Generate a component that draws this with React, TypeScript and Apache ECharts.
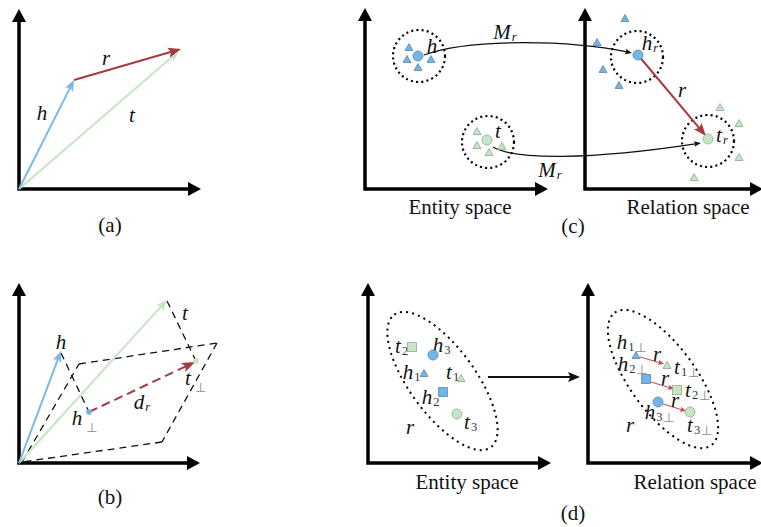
import React, { useEffect, useRef } from "react";
import * as echarts from "echarts";

// ---------- diagram data (coordinates in the diagram's own units) ----------
// axis frames: [originX, originY, xArrowTipX, yArrowTipY]
const axisFrames = [
  [19, 189, 201, 9],
  [19, 463, 200, 283],
  [365, 189, 548, 8],
  [585, 189, 763, 8],
  [368, 463, 551, 283],
  [588, 463, 763, 283],
];

// vectors: [x1, y1, x2, y2, kind]
const vectors: [number, number, number, number, string][] = [
  [19, 189, 179, 51, "green"],
  [19, 189, 74, 80, "blue"],
  [74, 80, 181, 49, "red"],
  [19, 463, 167, 300, "green"],
  [19, 463, 61, 351, "blue"],
  [89, 412, 195, 362, "redDash"],
  [638, 55, 706, 136, "red"],
  [488, 377, 580, 377, "black"],
  [640, 357, 664, 364, "redThin"],
  [651, 382, 674, 389, "redThin"],
  [663, 404, 686, 411, "redThin"],
];

// dashed plane edges and projection lines in (b): [x1, y1, x2, y2]
const planeEdges = [
  [22, 462, 79, 364],
  [79, 364, 217, 343],
  [217, 343, 162, 442],
  [162, 442, 22, 462],
];
const projections = [
  [61, 353, 89, 412],
  [167, 301, 196, 361],
];

// mapping curves M_r: [x0, y0, c1x, c1y, c2x, c2y, x3, y3]
const mappingCurves = [
  [424, 55, 470, 38, 570, 40, 632, 53],
  [493, 147, 515, 160, 590, 160, 701, 143],
];

// dotted neighbourhood circles: [cx, cy, r]
const dottedCircles = [
  [419, 56, 26],
  [637, 57, 26],
  [488, 142, 26],
  [708, 141, 26],
];

// dotted ellipses: [cx, cy, semiMajor, semiMinor, angleDeg]
const dottedEllipses = [
  [442.5, 381, 82, 33, 54],
  [663, 379, 82, 33, 54],
];

// markers: [x, y, shape, colour]
const markers: [number, number, string, string][] = [
  // (b)
  [89, 412, "dot", "blue"],
  [196, 361, "dot", "green"],
  // (c) entity space
  [409, 47, "triangle", "blue"],
  [407, 59, "triangle", "blue"],
  [418, 67, "triangle", "blue"],
  [431, 59, "triangle", "blue"],
  [418, 56, "circle", "blue"],
  [477, 131, "triangle", "green"],
  [477, 145, "triangle", "green"],
  [489, 152, "triangle", "green"],
  [502, 146, "triangle", "green"],
  [487, 140, "circle", "green"],
  // (c) relation space
  [625, 18, "triangle", "blue"],
  [597, 42, "triangle", "blue"],
  [603, 69, "triangle", "blue"],
  [619, 85, "triangle", "blue"],
  [638, 55, "circle", "blue"],
  [720, 107, "triangle", "green"],
  [739, 123, "triangle", "green"],
  [739, 157, "triangle", "green"],
  [694, 177, "triangle", "green"],
  [708, 139, "circle", "green"],
  // (d) entity space
  [412, 347, "square", "green"],
  [433, 355, "circle", "blue"],
  [424, 373, "triangle", "blue"],
  [461, 378, "triangle", "green"],
  [443, 392, "square", "blue"],
  [457, 414, "circle", "green"],
  // (d) relation space
  [636, 355, "triangle", "blue"],
  [667, 365, "triangle", "green"],
  [646, 379, "square", "blue"],
  [677, 390, "square", "green"],
  [658, 402, "circle", "blue"],
  [690, 412, "circle", "green"],
];

// labels: [x, y, main, subscript, perp, kind]
const labels: [number, number, string, string, string, string][] = [
  [106, 58, "r", "", "", "var"],
  [42, 113, "h", "", "", "var"],
  [132, 115, "t", "", "", "var"],
  [110, 225, "(a)", "", "", "cap"],
  [61, 342, "h", "", "", "var"],
  [185, 313, "t", "", "", "var"],
  [188, 378, "t", "", "⊥", "var"],
  [77, 418, "h", "", "⊥", "var"],
  [139, 402, "d", "r", "", "var"],
  [110, 497, "(b)", "", "", "cap"],
  [432, 46, "h", "", "", "var"],
  [502, 32, "M", "r", "", "var"],
  [547, 170, "M", "r", "", "var"],
  [498, 131, "t", "", "", "var"],
  [647, 43, "h", "r", "", "var"],
  [682, 90, "r", "", "", "var"],
  [719, 135, "t", "r", "", "var"],
  [460, 207, "Entity space", "", "", "cap"],
  [688, 207, "Relation space", "", "", "cap"],
  [573, 226, "(c)", "", "", "cap"],
  [398, 346, "t", "2", "", "var"],
  [438, 345, "h", "3", "", "var"],
  [408, 372, "h", "1", "", "var"],
  [449, 372, "t", "1", "", "var"],
  [427, 397, "h", "2", "", "var"],
  [467, 422, "t", "3", "", "var"],
  [410, 427, "r", "", "", "var"],
  [622, 342, "h", "1", "⊥", "var"],
  [677, 367, "t", "1", "⊥", "var"],
  [657, 354, "r", "", "", "var"],
  [623, 364, "h", "2", "⊥", "var"],
  [688, 390, "t", "2", "⊥", "var"],
  [665, 378, "r", "", "", "var"],
  [650, 412, "h", "3", "⊥", "var"],
  [690, 425, "t", "3", "⊥", "var"],
  [675, 400, "r", "", "", "var"],
  [630, 425, "r", "", "", "var"],
  [467, 482, "Entity space", "", "", "cap"],
  [695, 482, "Relation space", "", "", "cap"],
  [573, 513, "(d)", "", "", "cap"],
];

// ---------- styles ----------
const SERIF = "Liberation Serif";
const TEXT = "#111111";
const COLORS: Record<string, string> = {
  blue: "#7ab9e8",
  green: "#c6e5c6",
  red: "#a63a40",
  redDash: "#a63a40",
  redThin: "#c4474f",
  black: "#111111",
};
const VEC_STYLE: Record<string, { w: number; L: number; hw: number; dash?: number[] }> = {
  blue: { w: 2, L: 11, hw: 4.5 },
  green: { w: 2, L: 11, hw: 4.5 },
  red: { w: 2, L: 13, hw: 5 },
  redDash: { w: 2, L: 13, hw: 5, dash: [9, 5] },
  redThin: { w: 1, L: 6, hw: 2.6 },
  black: { w: 2, L: 12, hw: 5 },
};
const MARKER_FILL: Record<string, string> = { blue: "#74b5e5", green: "#c6e4c6" };
const MARKER_STROKE: Record<string, string> = { blue: "#4a7aa5", green: "#849f84" };
const MAIN_HALF_W: Record<string, number> = { h: 5.2, t: 2.9, r: 4, d: 5.2, M: 8.7 };

function arrowHead(tip: number[], from: number[], L: number, hw: number, notch: number, fill: string) {
  const dx = tip[0] - from[0];
  const dy = tip[1] - from[1];
  const len = Math.hypot(dx, dy) || 1;
  const ux = dx / len, uy = dy / len;
  const nx = -uy, ny = ux;
  const bx = tip[0] - ux * L, by = tip[1] - uy * L;
  const mx = tip[0] - ux * L * notch, my = tip[1] - uy * L * notch;
  return {
    type: "polygon",
    shape: { points: [[tip[0], tip[1]], [bx + nx * hw, by + ny * hw], [mx, my], [bx - nx * hw, by - ny * hw]] },
    style: { fill },
  };
}

function shorten(a: number[], b: number[], d: number) {
  const dx = b[0] - a[0], dy = b[1] - a[1];
  const len = Math.hypot(dx, dy) || 1;
  return [b[0] - (dx / len) * d, b[1] - (dy / len) * d];
}

function txt(x: number, y: number, text: string, size: number, italic: boolean, fill: string, align: string, family = SERIF) {
  return {
    type: "text",
    x,
    y,
    style: {
      text,
      fontFamily: family,
      fontSize: size,
      fontStyle: italic ? "italic" : "normal",
      fontWeight: "normal",
      fill,
      align,
      verticalAlign: "middle",
    },
  };
}

export default function App() {
  const ref = useRef<HTMLDivElement>(null);
  useEffect(() => {
    if (!ref.current) return;
    const chart = echarts.init(ref.current, null, { renderer: "svg" });
    const dashed = [...planeEdges, ...projections];
    const option: any = {
      animation: false,
      backgroundColor: "#ffffff",
      grid: { left: 0, right: 0, top: 0, bottom: 0 },
      xAxis: { type: "value", min: 0, max: 761, show: false },
      yAxis: { type: "value", min: 0, max: 527, inverse: true, show: false },
      series: [
        {
          type: "custom",
          name: "axes",
          clip: false,
          silent: true,
          data: axisFrames.map((f) => [f[0], f[1]]),
          renderItem: (params: any, api: any) => {
            const [ox, oy, xt, yt] = axisFrames[params.dataIndex];
            const o = api.coord([ox, oy]);
            const tx = api.coord([xt, oy]);
            const ty = api.coord([ox, yt]);
            const L = 13, hw = 7;
            return {
              type: "group",
              children: [
                {
                  type: "polyline",
                  shape: { points: [[ty[0], ty[1] + L - 1], [o[0], o[1]], [tx[0] - L + 1, tx[1]]] },
                  style: { stroke: "#000", lineWidth: 3.5, fill: "none", lineJoin: "miter" },
                },
                arrowHead(ty, o, L, hw, 1, "#000"),
                arrowHead(tx, o, L, hw, 1, "#000"),
              ],
            };
          },
        },
        {
          type: "custom",
          name: "dashed",
          clip: false,
          silent: true,
          data: dashed.map((d) => [d[0], d[1]]),
          renderItem: (params: any, api: any) => {
            const d = dashed[params.dataIndex];
            const a = api.coord([d[0], d[1]]);
            const b = api.coord([d[2], d[3]]);
            return {
              type: "line",
              shape: { x1: a[0], y1: a[1], x2: b[0], y2: b[1] },
              style: { stroke: "#111", lineWidth: 1.3, lineDash: [7, 5] },
            };
          },
        },
        {
          type: "custom",
          name: "dotted",
          clip: false,
          silent: true,
          data: [...dottedCircles.map((c) => [c[0], c[1]]), ...dottedEllipses.map((e) => [e[0], e[1]])],
          renderItem: (params: any, api: any) => {
            const i = params.dataIndex;
            if (i < dottedCircles.length) {
              const [cx, cy, r] = dottedCircles[i];
              const c = api.coord([cx, cy]);
              const e = api.coord([cx + r, cy]);
              return {
                type: "circle",
                shape: { cx: c[0], cy: c[1], r: e[0] - c[0] },
                style: { stroke: "#000", fill: "none", lineWidth: 2.2, lineDash: [2, 3.2] },
              };
            }
            const [cx, cy, a, b, ang] = dottedEllipses[i - dottedCircles.length];
            const c = api.coord([cx, cy]);
            const ea = api.coord([cx + a, cy]);
            const eb = api.coord([cx + b, cy]);
            return {
              type: "ellipse",
              x: c[0],
              y: c[1],
              rotation: (-ang * Math.PI) / 180,
              shape: { cx: 0, cy: 0, rx: ea[0] - c[0], ry: eb[0] - c[0] },
              style: { stroke: "#000", fill: "none", lineWidth: 2, lineDash: [2, 4.2] },
            };
          },
        },
        {
          type: "custom",
          name: "curves",
          clip: false,
          silent: true,
          data: mappingCurves.map((c) => [c[0], c[1]]),
          renderItem: (params: any, api: any) => {
            const c = mappingCurves[params.dataIndex];
            const p0 = api.coord([c[0], c[1]]);
            const p1 = api.coord([c[2], c[3]]);
            const p2 = api.coord([c[4], c[5]]);
            const p3 = api.coord([c[6], c[7]]);
            const end = shorten(p2, p3, 4);
            return {
              type: "group",
              children: [
                {
                  type: "bezierCurve",
                  shape: { x1: p0[0], y1: p0[1], cpx1: p1[0], cpy1: p1[1], cpx2: p2[0], cpy2: p2[1], x2: end[0], y2: end[1] },
                  style: { stroke: "#111", lineWidth: 1.3, fill: "none" },
                },
                arrowHead(p3, p2, 7, 2.8, 0.8, "#111"),
              ],
            };
          },
        },
        {
          type: "custom",
          name: "vectors",
          clip: false,
          silent: true,
          data: vectors.map((v) => [v[0], v[1]]),
          renderItem: (params: any, api: any) => {
            const [x1, y1, x2, y2, kind] = vectors[params.dataIndex];
            const a = api.coord([x1, y1]);
            const b = api.coord([x2, y2]);
            const s = VEC_STYLE[kind];
            const col = COLORS[kind];
            const end = shorten(a, b, s.L * 0.7);
            return {
              type: "group",
              children: [
                {
                  type: "line",
                  shape: { x1: a[0], y1: a[1], x2: end[0], y2: end[1] },
                  style: { stroke: col, lineWidth: s.w, lineDash: s.dash || null },
                },
                arrowHead(b, a, s.L, s.hw, 0.8, col),
              ],
            };
          },
        },
        {
          type: "scatter",
          name: "points",
          silent: true,
          data: markers.map(([x, y, shape, col]) => ({
            value: [x, y],
            symbol: shape === "square" ? "rect" : shape === "dot" ? "circle" : shape,
            symbolSize: shape === "triangle" ? [8, 7] : shape === "dot" ? 6 : shape === "square" ? 9 : 10,
            itemStyle: {
              color: MARKER_FILL[col],
              borderColor: shape === "dot" ? MARKER_FILL[col] : MARKER_STROKE[col],
              borderWidth: shape === "dot" ? 0 : 0.7,
              opacity: 1,
            },
          })),
        },
        {
          type: "custom",
          name: "labels",
          clip: false,
          silent: true,
          data: labels.map((l) => [l[0], l[1]]),
          renderItem: (params: any, api: any) => {
            const [x, y, main, sub, perp, kind] = labels[params.dataIndex];
            const p = api.coord([x, y]);
            if (kind === "cap") {
              return txt(p[0], p[1], main, 21, false, TEXT, "center");
            }
            const children: any[] = [txt(p[0], p[1], main, 21, true, TEXT, "center")];
            let sx = p[0] + (MAIN_HALF_W[main] || 5) + 1;
            if (sub) {
              const isLetter = /[a-z]/.test(sub);
              children.push(txt(sx, p[1] + 4.5, sub, 12.5, isLetter, isLetter ? TEXT : "#333", "left"));
              sx += isLetter ? 5 : 6.5;
            }
            if (perp) {
              children.push(txt(sx + (sub ? 0.5 : 3), p[1] + (sub ? 5 : 9), perp, 13, false, "#8c8c8c", "left", "DejaVu Sans"));
            }
            return { type: "group", children };
          },
        },
      ],
    };
    chart.setOption(option);
    return () => chart.dispose();
  }, []);
  return <div ref={ref} style={{ position: "fixed", left: 0, top: 0, width: 761, height: 527 }} />;
}
